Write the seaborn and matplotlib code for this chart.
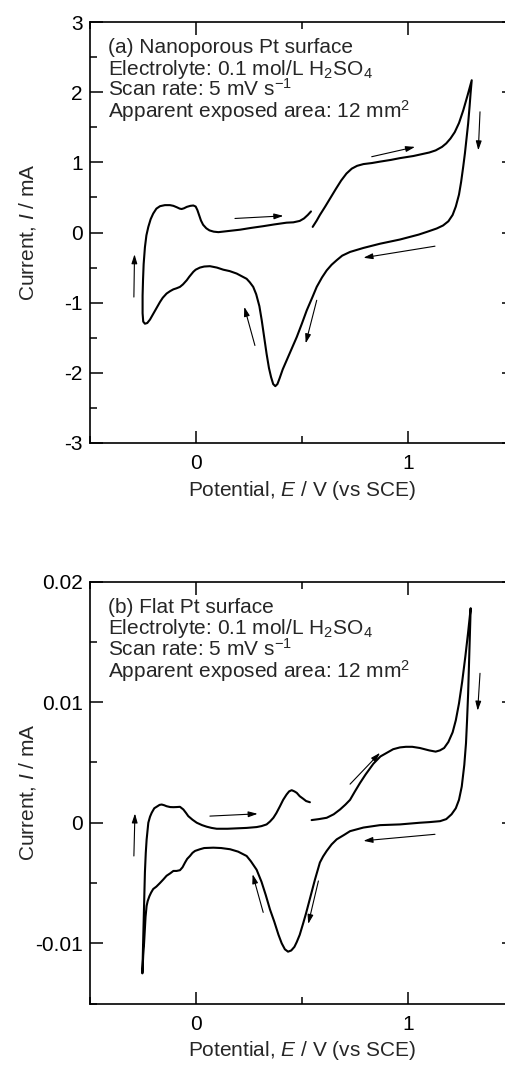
import numpy as np
import pandas as pd
import seaborn as sns
import matplotlib.pyplot as plt
from matplotlib.ticker import MultipleLocator, FormatStrFormatter

# (a) nanoporous Pt: potential (V vs SCE) and current (mA), traced in scan order
# anodic upper part -> cathodic sweep -> anodic lower part
np_E = [0.551, 0.570, 0.585, 0.610, 0.633, 0.660, 0.685, 0.710, 0.735, 0.760, 0.790,
        0.830, 0.868, 0.920, 0.962, 1.025, 1.070, 1.100, 1.130, 1.160, 1.180, 1.200,
        1.220, 1.240, 1.260, 1.280, 1.300,
        1.295, 1.290, 1.283, 1.276, 1.268, 1.260, 1.250, 1.240, 1.225, 1.210, 1.190,
        1.165, 1.135, 1.090, 1.050, 0.962, 0.868, 0.790, 0.727, 0.690, 0.664, 0.640,
        0.617, 0.595, 0.570, 0.550, 0.523, 0.500, 0.476, 0.450, 0.428, 0.410, 0.395,
        0.385, 0.375, 0.365, 0.355, 0.345, 0.334, 0.322, 0.311, 0.300, 0.285, 0.271,
        0.255, 0.240, 0.215, 0.193, 0.160, 0.130, 0.100, 0.067, 0.040, 0.020, 0.000,
        -0.011, -0.030, -0.042, -0.060, -0.074, -0.090, -0.105, -0.120, -0.137, -0.155,
        -0.168, -0.185, -0.200, -0.215, -0.228, -0.239,
        -0.247, -0.250, -0.250, -0.248, -0.245, -0.239, -0.232, -0.223, -0.212, -0.200,
        -0.185, -0.168, -0.145, -0.121, -0.105, -0.089, -0.075, -0.066, -0.055, -0.042,
        -0.025, -0.011, 0.000, 0.008, 0.015, 0.025, 0.035, 0.050, 0.065, 0.085, 0.107,
        0.150, 0.209, 0.260, 0.318, 0.370, 0.428, 0.460, 0.490, 0.510, 0.528, 0.543]
np_I = [0.08, 0.17, 0.25, 0.37, 0.485, 0.62, 0.74, 0.84, 0.91, 0.95, 0.975,
        0.99, 1.01, 1.035, 1.06, 1.09, 1.12, 1.14, 1.17, 1.22, 1.27, 1.34,
        1.43, 1.56, 1.74, 1.95, 2.17,
        2.00, 1.80, 1.55, 1.35, 1.13, 0.94, 0.72, 0.54, 0.37, 0.25, 0.16,
        0.10, 0.057, 0.01, -0.03, -0.10, -0.16, -0.22, -0.277, -0.33, -0.395, -0.46,
        -0.54, -0.64, -0.775, -0.92, -1.11, -1.30, -1.49, -1.67, -1.82, -1.95, -2.08,
        -2.16, -2.19, -2.16, -2.06, -1.93, -1.73, -1.48, -1.25, -1.05, -0.88, -0.775,
        -0.71, -0.66, -0.62, -0.585, -0.55, -0.53, -0.50, -0.48, -0.485, -0.50, -0.53,
        -0.56, -0.63, -0.68, -0.74, -0.775, -0.795, -0.81, -0.835, -0.87, -0.93,
        -0.99, -1.08, -1.16, -1.24, -1.29, -1.30,
        -1.27, -1.15, -0.90, -0.68, -0.45, -0.21, -0.04, 0.08, 0.19, 0.27,
        0.34, 0.375, 0.39, 0.39, 0.38, 0.36, 0.34, 0.335, 0.345, 0.365,
        0.38, 0.385, 0.37, 0.32, 0.26, 0.17, 0.11, 0.06, 0.03, 0.012, 0.005,
        0.02, 0.04, 0.065, 0.09, 0.115, 0.14, 0.145, 0.165, 0.20, 0.25, 0.30]

# (b) flat Pt
fl_E = [0.546, 0.580, 0.617, 0.650, 0.680, 0.705, 0.727, 0.750, 0.774, 0.800, 0.837,
        0.870, 0.900, 0.930, 0.962, 0.990, 1.020, 1.056, 1.100, 1.130, 1.150, 1.170,
        1.190, 1.210, 1.225, 1.240, 1.255, 1.270, 1.283, 1.295,
        1.291, 1.287, 1.283, 1.278, 1.273, 1.265, 1.253, 1.240, 1.225, 1.205, 1.180,
        1.151, 1.100, 1.056, 0.962, 0.868, 0.790, 0.727, 0.700, 0.664, 0.640, 0.617,
        0.600, 0.585, 0.575, 0.562, 0.550, 0.538, 0.520, 0.507, 0.490, 0.476, 0.465,
        0.450, 0.435, 0.420, 0.405, 0.390, 0.370, 0.350, 0.330, 0.310, 0.287, 0.260,
        0.240, 0.200, 0.162, 0.120, 0.083, 0.040, 0.020, -0.003, -0.015, -0.027, -0.040,
        -0.050, -0.062, -0.074, -0.090, -0.105, -0.120, -0.137, -0.152, -0.168, -0.185,
        -0.200, -0.210, -0.218, -0.226, -0.231, -0.236, -0.239, -0.243, -0.247, -0.251,
        -0.249, -0.247, -0.243, -0.239, -0.235, -0.231, -0.223, -0.215, -0.207, -0.195,
        -0.184, -0.170, -0.160, -0.148, -0.137, -0.120, -0.105, -0.090, -0.074, -0.065,
        -0.058, -0.045, -0.035, -0.015, 0.005, 0.030, 0.052, 0.075, 0.099, 0.150, 0.193,
        0.240, 0.287, 0.310, 0.334, 0.350, 0.366, 0.380, 0.397, 0.412, 0.428, 0.440,
        0.452, 0.465, 0.476, 0.490, 0.507, 0.520, 0.538]
fl_I = [0.00022, 0.0003, 0.00041, 0.0007, 0.0011, 0.0015, 0.0019, 0.0026, 0.0033,
        0.0040, 0.0049, 0.0055, 0.0058, 0.0061, 0.00625, 0.0063, 0.0063, 0.0062, 0.0060,
        0.0059, 0.0060, 0.0062, 0.0067, 0.0075, 0.0085, 0.0099, 0.0117, 0.0138, 0.0158,
        0.0178,
        0.0155, 0.0130, 0.0107, 0.0085, 0.0066, 0.0048, 0.0030, 0.0019, 0.0012, 0.0007,
        0.0003, 0.00013, 0.00005, 0.0, -0.00014, -0.0002, -0.0004, -0.0007, -0.0010,
        -0.00138, -0.0018, -0.00234, -0.0028, -0.0033, -0.0039, -0.0047, -0.0055,
        -0.0063, -0.0075, -0.0083, -0.0093, -0.0099, -0.0103, -0.0106, -0.0107, -0.0105,
        -0.0100, -0.0093, -0.0082, -0.0072, -0.0060, -0.0049, -0.0039, -0.0032, -0.00276,
        -0.0024, -0.0022, -0.0021, -0.00207, -0.0021, -0.0022, -0.00234, -0.0025,
        -0.00276, -0.0030, -0.0033, -0.0037, -0.00394, -0.0040, -0.0040, -0.0042, -0.0044,
        -0.0047, -0.0050, -0.0053, -0.0055, -0.0058, -0.0061, -0.0065, -0.0069, -0.0078,
        -0.0088, -0.0100, -0.0110, -0.0125,
        -0.0110, -0.0096, -0.0070, -0.0041, -0.0025, -0.0014, 0.0, 0.0005, 0.00083,
        0.0012, 0.00132, 0.00148, 0.00151, 0.00145, 0.00137, 0.0013, 0.00129, 0.0013,
        0.00132, 0.0012, 0.0011, 0.0008, 0.00055, 0.00025, 0.0, -0.0002, -0.00033,
        -0.00043, -0.0005, -0.0005, -0.00047, -0.00043, -0.00036, -0.00028, -0.00014,
        0.0001, 0.00041, 0.0008, 0.00137, 0.0019, 0.00234, 0.0026, 0.0027, 0.0026,
        0.00248, 0.0022, 0.00198, 0.0018, 0.0017]

# scan direction arrows: (E start, I start, E end, I end)
np_arrows = [(-0.291, -0.92, -0.288, -0.31),
             (0.185, 0.20, 0.413, 0.237),
             (0.829, 1.08, 1.033, 1.22),
             (1.339, 1.72, 1.331, 1.17),
             (1.127, -0.195, 0.790, -0.36),
             (0.570, -0.966, 0.518, -1.58),
             (0.279, -1.61, 0.229, -1.06)]
fl_arrows = [(-0.291, -0.00276, -0.286, 0.00077),
             (0.067, 0.00055, 0.292, 0.00074),
             (0.727, 0.0032, 0.868, 0.0058),
             (1.339, 0.0124, 1.328, 0.0093),
             (1.127, -0.00096, 0.790, -0.0015),
             (0.578, -0.00483, 0.530, -0.0084),
             (0.318, -0.00744, 0.268, -0.00427)]

np_text = ['(a) Nanoporous Pt surface', r'Electrolyte: 0.1 mol/L H$_2$SO$_4$',
           r'Scan rate: 5 mV s$^{-1}$', r'Apparent exposed area: 12 mm$^2$']
fl_text = ['(b) Flat Pt surface', r'Electrolyte: 0.1 mol/L H$_2$SO$_4$',
           r'Scan rate: 5 mV s$^{-1}$', r'Apparent exposed area: 12 mm$^2$']

sns.set_style('ticks')
plt.rcParams['font.family'] = ['Liberation Sans', 'DejaVu Sans']
plt.rcParams['mathtext.fontset'] = 'custom'
plt.rcParams['mathtext.rm'] = 'Liberation Sans'
plt.rcParams['mathtext.it'] = 'Liberation Sans:italic'
plt.rcParams['axes.unicode_minus'] = False
plt.rcParams['font.size'] = 15

fig = plt.figure(figsize=(5.05, 10.72), dpi=100)
W, H = 505, 1072
ax1 = fig.add_axes([89.5 / W, 1 - 443 / H, 424.7 / W, 421 / H])
ax2 = fig.add_axes([89.5 / W, 1 - 1003.5 / H, 424.7 / W, 421.8 / H])


def draw(ax, E, I, arrows, lines, ylim, ymaj):
    df = pd.DataFrame({'E': E, 'I': I})
    sns.lineplot(data=df, x='E', y='I', sort=False, estimator=None,
                 color='black', lw=1.5, ax=ax)
    for x0, y0, x1, y1 in arrows:
        ax.annotate('', xy=(x1, y1), xytext=(x0, y0),
                    arrowprops=dict(arrowstyle='-|>,head_length=0.55,head_width=0.17',
                                    color='black', lw=0.8, shrinkA=0, shrinkB=0,
                                    mutation_scale=10))
    for k, s in enumerate(lines):
        ax.text(0.044, 0.926 - 0.051 * k, s, transform=ax.transAxes,
                va='baseline', ha='left', fontsize=15)
    ax.set_xlim(-0.5, 1.5)
    ax.set_ylim(*ylim)
    ax.xaxis.set_major_locator(MultipleLocator(1))
    ax.xaxis.set_minor_locator(MultipleLocator(0.5))
    ax.yaxis.set_major_locator(MultipleLocator(ymaj))
    ax.yaxis.set_minor_locator(MultipleLocator(ymaj / 2))
    ax.xaxis.set_major_formatter(FormatStrFormatter('%g'))
    ax.yaxis.set_major_formatter(FormatStrFormatter('%g'))
    ax.tick_params(which='both', direction='in', top=True, right=True,
                   width=1.1, colors='black', labelsize=15)
    ax.tick_params(which='major', length=9)
    ax.tick_params(which='minor', length=5)
    ax.tick_params(axis='x', pad=8)
    ax.tick_params(axis='y', pad=5)
    for sp in ax.spines.values():
        sp.set_linewidth(1.2)
        sp.set_color('black')
    ax.set_xlabel(r'Potential, $E$ / V (vs SCE)', fontsize=15, va='center')
    ax.set_ylabel(r'Current, $I$ / mA', fontsize=15, va='center')
    ax.xaxis.set_label_coords(0.5, -0.112)
    ax.yaxis.set_label_coords(-0.147, 0.5)


draw(ax1, np_E, np_I, np_arrows, np_text, (-3, 3), 1)
draw(ax2, fl_E, fl_I, fl_arrows, fl_text, (-0.015, 0.02), 0.01)

fig.savefig('out.png', dpi=100)
